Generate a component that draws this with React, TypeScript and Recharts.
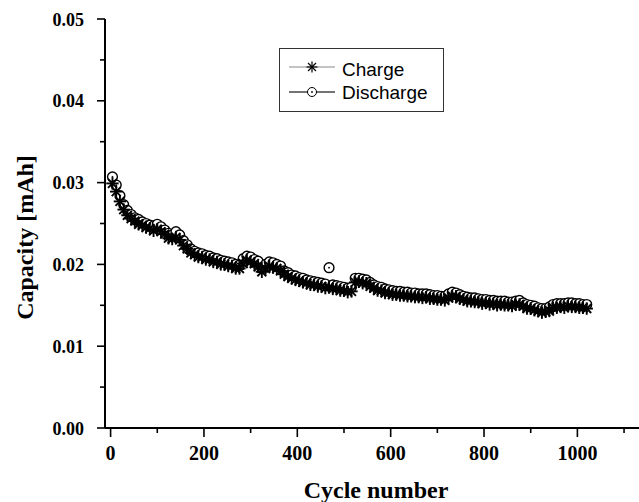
import React from 'react';
import { ScatterChart, Scatter, XAxis, YAxis, Legend } from 'recharts';

const cycles = [
  4, 12, 20, 28, 36, 44, 52, 60, 68, 76, 84, 92, 100, 108, 116, 124, 132, 140, 148, 156,
  164, 172, 180, 188, 196, 204, 212, 220, 228, 236, 244, 252, 260, 268, 276, 284, 292, 300, 308, 316,
  324, 332, 340, 348, 356, 364, 372, 380, 388, 396, 404, 412, 420, 428, 436, 444, 452, 460, 468, 476,
  484, 492, 500, 508, 516, 524, 532, 540, 548, 556, 564, 572, 580, 588, 596, 604, 612, 620, 628, 636,
  644, 652, 660, 668, 676, 684, 692, 700, 708, 716, 724, 732, 740, 748, 756, 764, 772, 780, 788, 796,
  804, 812, 820, 828, 836, 844, 852, 860, 868, 876, 884, 892, 900, 908, 916, 924, 932, 940, 948, 956,
  964, 972, 980, 988, 996, 1004, 1012, 1020,
];

const dischargeCap = [
  0.0307, 0.0297, 0.0284, 0.0273, 0.0266, 0.0261, 0.0257, 0.0255, 0.0252, 0.025, 0.0248, 0.0247, 0.0249, 0.0246, 0.0242, 0.0238, 0.0236, 0.024, 0.0236, 0.0229,
  0.0224, 0.0219, 0.0216, 0.0214, 0.0213, 0.0211, 0.021, 0.0208, 0.0207, 0.0205, 0.0204, 0.0203, 0.0202, 0.02, 0.0199, 0.0207, 0.021, 0.0209, 0.0206, 0.0204,
  0.0196, 0.02, 0.0203, 0.0202, 0.02, 0.0198, 0.0192, 0.019, 0.0187, 0.0186, 0.0184, 0.0183, 0.0181, 0.018, 0.0179, 0.0178, 0.0177, 0.0176, 0.0196, 0.0175,
  0.0174, 0.0173, 0.0172, 0.0171, 0.0172, 0.0183, 0.0183, 0.0182, 0.0181, 0.0178, 0.0175, 0.0173, 0.0172, 0.017, 0.0169, 0.0168, 0.0167, 0.0167, 0.0166, 0.0166,
  0.0165, 0.0165, 0.0164, 0.0164, 0.0164, 0.0163, 0.0162, 0.0162, 0.0161, 0.0161, 0.0164, 0.0166, 0.0165, 0.0163, 0.0161, 0.016, 0.0159, 0.0159, 0.0158, 0.0157,
  0.0157, 0.0156, 0.0156, 0.0155, 0.0155, 0.0155, 0.0154, 0.0154, 0.0155, 0.0156, 0.0153, 0.0151, 0.015, 0.0149, 0.0147, 0.0146, 0.0146, 0.0148, 0.0151, 0.0152,
  0.0152, 0.0152, 0.0153, 0.0153, 0.0152, 0.0152, 0.0151, 0.0151,
];

const chargeCap = [
  0.0299, 0.0289, 0.0277, 0.0267, 0.026, 0.0256, 0.0253, 0.0249, 0.0248, 0.0245, 0.0244, 0.0241, 0.0243, 0.024, 0.0237, 0.0232, 0.0231, 0.0233, 0.023, 0.0223,
  0.0219, 0.0214, 0.0212, 0.0209, 0.0209, 0.0206, 0.0206, 0.0203, 0.0203, 0.02, 0.02, 0.0198, 0.0198, 0.0195, 0.0195, 0.0201, 0.0205, 0.0203, 0.0201, 0.0197,
  0.0191, 0.0195, 0.0198, 0.0196, 0.0195, 0.0192, 0.0188, 0.0185, 0.0183, 0.0181, 0.018, 0.0178, 0.0177, 0.0175, 0.0175, 0.0173, 0.0173, 0.0171, 0.0172, 0.017,
  0.017, 0.0168, 0.0168, 0.0166, 0.0167, 0.0178, 0.0179, 0.0177, 0.0177, 0.0173, 0.0171, 0.0168, 0.0168, 0.0165, 0.0165, 0.0163, 0.0163, 0.0162, 0.0162, 0.0161,
  0.0161, 0.016, 0.016, 0.0159, 0.016, 0.0158, 0.0158, 0.0157, 0.0157, 0.0156, 0.0159, 0.0161, 0.0161, 0.0158, 0.0157, 0.0155, 0.0155, 0.0154, 0.0154, 0.0152,
  0.0153, 0.0151, 0.0152, 0.015, 0.0151, 0.015, 0.015, 0.0149, 0.0151, 0.0151, 0.0149, 0.0146, 0.0146, 0.0144, 0.0143, 0.0141, 0.0142, 0.0143, 0.0147, 0.0147,
  0.0148, 0.0147, 0.0149, 0.0148, 0.0148, 0.0147, 0.0147, 0.0146,
];

const xTicks = [0, 100, 200, 300, 400, 500, 600, 700, 800, 900, 1000, 1100];
const yTicks = [0, 0.005, 0.01, 0.015, 0.02, 0.025, 0.03, 0.035, 0.04, 0.045, 0.05];
const seriesNames = ['Charge', 'Discharge'];
const xTitle = 'Cycle number';
const yTitle = 'Capacity [mAh]';

const chargeData = cycles.map((c, i) => ({ cycle: c, cap: chargeCap[i] }));
const dischargeData = cycles.map((c, i) => ({ cycle: c, cap: dischargeCap[i] }));

const SERIF = '"Liberation Serif", "Times New Roman", serif';
const SANS = '"Liberation Sans", Arial, sans-serif';

const AsteriskMark = ({ cx, cy, r = 6.2, w = 1.9 }: any) => {
  const d = r * 0.72;
  return (
    <g stroke="#000" strokeWidth={w}>
      <line x1={cx - r} y1={cy} x2={cx + r} y2={cy} />
      <line x1={cx} y1={cy - r} x2={cx} y2={cy + r} />
      <line x1={cx - d} y1={cy - d} x2={cx + d} y2={cy + d} />
      <line x1={cx - d} y1={cy + d} x2={cx + d} y2={cy - d} />
    </g>
  );
};

const RingMark = ({ cx, cy, r = 4.9, w = 1.4 }: any) => (
  <g>
    <circle cx={cx} cy={cy} r={r} fill="#fff" stroke="#000" strokeWidth={w} />
    <circle cx={cx} cy={cy} r={0.9} fill="#000" />
  </g>
);

const XTick = (props: any) => {
  const { x, y, payload } = props;
  const v = payload.value;
  const major = v % 200 === 0;
  return (
    <g>
      <line x1={x} y1={y} x2={x} y2={y + (major ? 9 : 5)} stroke="#000" strokeWidth={1.6} />
      {major && (
        <text x={x} y={y + 32} textAnchor="middle" fontFamily={SERIF} fontWeight="bold" fontSize={20} fill="#000">
          {v}
        </text>
      )}
    </g>
  );
};

const YTick = (props: any) => {
  const { x, y, payload } = props;
  const v = payload.value;
  const major = Math.abs(v * 100 - Math.round(v * 100)) < 1e-6;
  return (
    <g>
      <line x1={x} y1={y} x2={x - (major ? 8 : 5)} y2={y} stroke="#000" strokeWidth={1.6} />
      {major && (
        <text x={x - 21} y={y + 6.5} textAnchor="end" fontFamily={SERIF} fontWeight="bold" fontSize={18} fill="#000">
          {v.toFixed(2)}
        </text>
      )}
    </g>
  );
};

const XLabel = (props: any) => {
  const vb = props.viewBox;
  return (
    <text x={vb.x + vb.width / 2 + 4} y={498} textAnchor="middle" fontFamily={SERIF} fontWeight="bold" fontSize={24} fill="#000">
      {xTitle}
    </text>
  );
};

const YLabel = (props: any) => {
  const vb = props.viewBox;
  const cx = 33;
  const cy = vb.y + vb.height / 2 + 14;
  return (
    <text x={cx} y={cy} transform={`rotate(-90 ${cx} ${cy})`} textAnchor="middle" fontFamily={SERIF} fontWeight="bold" fontSize={24} fill="#000">
      {yTitle}
    </text>
  );
};

const LegendBox = () => (
  <svg width={165} height={64} style={{ display: 'block' }}>
    <rect x={0.5} y={0.5} width={164} height={63} fill="#fff" stroke="#333" strokeWidth={1} />
    <line x1={10} y1={19} x2={56} y2={19} stroke="#888" strokeWidth={1} />
    <AsteriskMark cx={33} cy={19} r={5.5} w={1.2} />
    <text x={63} y={27.5} fontFamily={SANS} fontSize={19} fill="#000">{seriesNames[0]}</text>
    <line x1={10} y1={44} x2={56} y2={44} stroke="#444" strokeWidth={1.6} />
    <RingMark cx={33} cy={44} r={4.5} w={1} />
    <text x={63} y={50.5} fontFamily={SANS} fontSize={19} fill="#000">{seriesNames[1]}</text>
  </svg>
);

export default function App() {
  return (
    <div style={{ position: 'absolute', left: 0, top: 0, background: '#fff' }}>
      <ScatterChart width={639} height={502} margin={{ top: 19, right: 0, bottom: 44, left: 0 }}>
        <XAxis
          type="number"
          dataKey="cycle"
          domain={[-12, 1132]}
          ticks={xTicks}
          interval={0}
          height={30}
          tickSize={0}
          tickMargin={0}
          tickLine={false}
          tick={<XTick />}
          axisLine={{ stroke: '#000', strokeWidth: 2 }}
          allowDataOverflow
          label={<XLabel />}
        />
        <YAxis
          type="number"
          dataKey="cap"
          domain={[0, 0.05]}
          ticks={yTicks}
          interval={0}
          width={105}
          tickSize={0}
          tickMargin={0}
          tickLine={false}
          tick={<YTick />}
          axisLine={{ stroke: '#000', strokeWidth: 2 }}
          allowDataOverflow
          label={<YLabel />}
        />
        <Legend
          layout="horizontal"
          verticalAlign="middle"
          align="center"
          content={<LegendBox />}
          wrapperStyle={{ position: 'absolute', left: 279, top: 48, width: 165, height: 64 }}
        />
        <Scatter name={seriesNames[1]} data={dischargeData} shape={<RingMark />} isAnimationActive={false} />
        <Scatter name={seriesNames[0]} data={chargeData} shape={<AsteriskMark />} isAnimationActive={false} />
      </ScatterChart>
    </div>
  );
}
